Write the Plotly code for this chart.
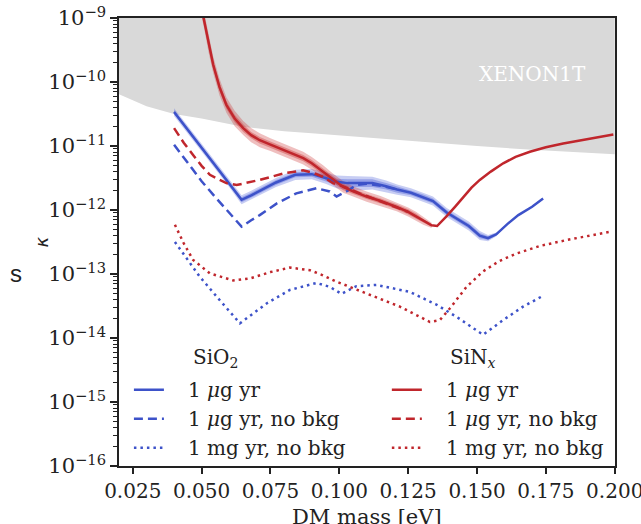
import numpy as np
import plotly.graph_objects as go

# ---------------- data (log10 values) ----------------
xenon_x = [0.020, 0.030, 0.040, 0.050, 0.065, 0.080, 0.090, 0.110, 0.130, 0.150, 0.170, 0.200]
xenon_log = [-10.19, -10.38, -10.50, -10.57, -10.70, -10.77, -10.80, -10.87, -10.94, -11.00, -11.06, -11.13]

sio2_x = [0.040, 0.045, 0.050, 0.055, 0.060, 0.0645, 0.068, 0.072, 0.077, 0.084, 0.090, 0.095,
          0.099, 0.103, 0.108, 0.112, 0.117, 0.121, 0.126, 0.130, 0.134, 0.139, 0.143, 0.147,
          0.151, 0.154, 0.157, 0.161, 0.165, 0.170, 0.174]
sio2_log = [-10.47, -10.75, -11.02, -11.30, -11.58, -11.84, -11.77, -11.68, -11.57, -11.45, -11.44, -11.50,
            -11.56, -11.58, -11.58, -11.58, -11.63, -11.68, -11.73, -11.79, -11.86, -12.04, -12.15, -12.25,
            -12.40, -12.44, -12.38, -12.22, -12.08, -11.95, -11.82]
sio2_band1 = [0.03, 0.03, 0.03, 0.03, 0.03, 0.04, 0.04, 0.04, 0.04, 0.04, 0.04, 0.05,
              0.05, 0.06, 0.06, 0.06, 0.05, 0.05, 0.04, 0.04, 0.04, 0.04, 0.04, 0.04,
              0.04, 0.03, 0.02, 0.01, 0.0, 0.0, 0.0]
sio2_band2 = [0.06, 0.06, 0.06, 0.06, 0.06, 0.07, 0.07, 0.07, 0.07, 0.08, 0.08, 0.09,
              0.10, 0.11, 0.11, 0.10, 0.09, 0.08, 0.07, 0.07, 0.07, 0.07, 0.07, 0.07,
              0.07, 0.05, 0.03, 0.01, 0.0, 0.0, 0.0]

sio2_nb_x = [0.040, 0.045, 0.050, 0.055, 0.060, 0.0645, 0.068, 0.0711, 0.0772, 0.0844, 0.0917,
             0.0965, 0.099, 0.1026, 0.1062, 0.110, 0.115, 0.121]
sio2_nb_log = [-10.98, -11.27, -11.55, -11.80, -12.04, -12.26, -12.16, -12.08, -11.90, -11.74, -11.66,
               -11.71, -11.79, -11.71, -11.61, -11.59, -11.62, -11.68]

sio2_mg_x = [0.0403, 0.0449, 0.0493, 0.0566, 0.0639, 0.0736, 0.082, 0.0917, 0.0965, 0.1008, 0.1062,
             0.1135, 0.1256, 0.1353, 0.1426, 0.1522, 0.1595, 0.1667, 0.174]
sio2_mg_log = [-12.50, -12.78, -13.04, -13.41, -13.77, -13.46, -13.25, -13.14, -13.20, -13.31, -13.19,
               -13.17, -13.28, -13.48, -13.67, -13.95, -13.72, -13.51, -13.34]

sinx_x = [0.0500, 0.0509, 0.0525, 0.0542, 0.0565, 0.059, 0.062, 0.0651, 0.068, 0.0711, 0.075, 0.0796,
          0.083, 0.0869, 0.090, 0.0941, 0.098, 0.1014, 0.105, 0.1099, 0.115, 0.1208, 0.125, 0.128,
          0.1305, 0.1335, 0.1355, 0.137, 0.1389, 0.142, 0.145, 0.148, 0.151, 0.155, 0.1595, 0.164,
          0.1692, 0.175, 0.1813, 0.190, 0.1995]
sinx_log = [-8.85, -9.03, -9.40, -9.73, -10.08, -10.36, -10.57, -10.72, -10.83, -10.91, -10.98, -11.06,
            -11.12, -11.19, -11.27, -11.40, -11.53, -11.64, -11.71, -11.79, -11.86, -11.95, -12.03, -12.10,
            -12.17, -12.24, -12.25, -12.19, -12.10, -11.95, -11.80, -11.65, -11.53, -11.40, -11.27, -11.17,
            -11.09, -11.02, -10.96, -10.89, -10.82]
sinx_band1 = [0.06, 0.06, 0.06, 0.06, 0.06, 0.06, 0.06, 0.06, 0.05, 0.05, 0.05, 0.05,
              0.05, 0.05, 0.05, 0.05, 0.05, 0.05, 0.04, 0.04, 0.04, 0.04, 0.04, 0.04,
              0.03, 0.02, 0.0, 0.0, 0.0, 0.0, 0.0, 0.0, 0.0, 0.0, 0.0, 0.0,
              0.0, 0.0, 0.0, 0.0, 0.0]
sinx_band2 = [0.13, 0.13, 0.13, 0.13, 0.13, 0.12, 0.12, 0.11, 0.11, 0.11, 0.10, 0.10,
              0.10, 0.10, 0.10, 0.10, 0.09, 0.09, 0.08, 0.08, 0.08, 0.07, 0.07, 0.07,
              0.06, 0.04, 0.0, 0.0, 0.0, 0.0, 0.0, 0.0, 0.0, 0.0, 0.0, 0.0,
              0.0, 0.0, 0.0, 0.0, 0.0]

sinx_nb_x = [0.040, 0.0435, 0.0469, 0.050, 0.053, 0.059, 0.0627, 0.0711, 0.0796, 0.0832, 0.0868,
             0.0905, 0.094, 0.0977, 0.1014, 0.1074, 0.1123, 0.120, 0.125]
sinx_nb_log = [-10.72, -10.95, -11.14, -11.31, -11.45, -11.58, -11.61, -11.53, -11.43, -11.40, -11.38,
               -11.42, -11.48, -11.58, -11.63, -11.74, -11.82, -11.94, -12.03]

sinx_mg_x = [0.0403, 0.0435, 0.0469, 0.053, 0.0614, 0.0675, 0.075, 0.082, 0.0893, 0.094, 0.099,
             0.1099, 0.122, 0.1329, 0.1365, 0.1401, 0.1462, 0.1522, 0.158, 0.1643, 0.173, 0.1825, 0.1982]
sinx_mg_log = [-12.23, -12.52, -12.78, -12.99, -13.10, -13.07, -12.97, -12.90, -12.94, -13.02, -13.12,
               -13.30, -13.51, -13.75, -13.72, -13.54, -13.20, -12.96, -12.80, -12.68, -12.56, -12.47, -12.34]

x_ticks = [0.025, 0.050, 0.075, 0.100, 0.125, 0.150, 0.175, 0.200]
x_ticktext = ["0.025", "0.050", "0.075", "0.100", "0.125", "0.150", "0.175", "0.200"]
y_exps = [-16, -15, -14, -13, -12, -11, -10, -9]

BLUE = "#3d52c9"
RED = "#c0262c"
SERIF = "DejaVu Serif"


def pw(a):
    return [10.0 ** v for v in a]


fig = go.Figure()

# XENON1T excluded region
fig.add_trace(go.Scatter(
    x=xenon_x + [xenon_x[-1], xenon_x[0]],
    y=pw(xenon_log) + [10.0 ** y_exps[-1], 10.0 ** y_exps[-1]],
    fill="toself", fillcolor="#d9d9d9", line=dict(width=0), mode="lines",
    showlegend=False, hoverinfo="skip"))


def add_band(xs, c, w, rgba):
    xs_b = [x for x, ww in zip(xs, w) if ww > 0]
    up = [10 ** (v + ww) for v, ww in zip(c, w) if ww > 0]
    lo = [10 ** (v - ww) for v, ww in zip(c, w) if ww > 0]
    fig.add_trace(go.Scatter(x=xs_b + xs_b[::-1], y=up + lo[::-1], fill="toself",
                             fillcolor=rgba, line=dict(width=0), mode="lines",
                             showlegend=False, hoverinfo="skip"))


add_band(sio2_x, sio2_log, sio2_band2, "rgba(70,90,215,0.30)")
add_band(sio2_x, sio2_log, sio2_band1, "rgba(70,90,215,0.38)")
add_band(sinx_x, sinx_log, sinx_band2, "rgba(205,55,55,0.32)")
add_band(sinx_x, sinx_log, sinx_band1, "rgba(205,55,55,0.40)")

NB = "\u00a0" * 3
DASH = "9px,5px"
DOT = "2.5px,4px"

# SiO2
fig.add_trace(go.Scatter(x=sio2_nb_x, y=pw(sio2_nb_log), mode="lines",
                         line=dict(color=BLUE, width=2.5, dash=DASH),
                         name=NB + "1 <i>μ</i>g yr, no bkg", legend="legend", legendrank=2))
fig.add_trace(go.Scatter(x=sio2_mg_x, y=pw(sio2_mg_log), mode="lines",
                         line=dict(color=BLUE, width=2.5, dash=DOT),
                         name=NB + "1 mg yr, no bkg", legend="legend", legendrank=3))
fig.add_trace(go.Scatter(x=sio2_x, y=pw(sio2_log), mode="lines",
                         line=dict(color=BLUE, width=2.5),
                         name=NB + "1 <i>μ</i>g yr", legend="legend", legendrank=1))
# SiNx
fig.add_trace(go.Scatter(x=sinx_nb_x, y=pw(sinx_nb_log), mode="lines",
                         line=dict(color=RED, width=2.5, dash=DASH),
                         name=NB + "1 <i>μ</i>g yr, no bkg", legend="legend2", legendrank=2))
fig.add_trace(go.Scatter(x=sinx_mg_x, y=pw(sinx_mg_log), mode="lines",
                         line=dict(color=RED, width=2.5, dash=DOT),
                         name=NB + "1 mg yr, no bkg", legend="legend2", legendrank=3))
fig.add_trace(go.Scatter(x=sinx_x, y=pw(sinx_log), mode="lines",
                         line=dict(color=RED, width=2.5),
                         name=NB + "1 <i>μ</i>g yr", legend="legend2", legendrank=1))

leg_common = dict(bgcolor="rgba(0,0,0,0)", borderwidth=0, orientation="v",
                  font=dict(family=SERIF, size=20, color="#222"),
                  xanchor="left", yanchor="top", tracegroupgap=0, traceorder="normal")
fig.update_layout(
    legend=dict(x=0.02, y=0.214, **leg_common),
    legend2=dict(x=0.54, y=0.214, **leg_common),
)

fig.update_xaxes(range=[0.02, 0.2001], tickvals=x_ticks, ticktext=x_ticktext, automargin=False,
                 ticklabeloverflow="allow",
                 ticks="outside", ticklen=6, tickwidth=1.5, tickcolor="#222",
                 showline=True, linecolor="#222", linewidth=1.5, mirror=True,
                 showgrid=False, zeroline=False,
                 tickfont=dict(family=SERIF, size=20, color="#222"))
fig.update_yaxes(type="log", range=[-16, -9], automargin=False,
                 tickvals=[10.0 ** e for e in y_exps],
                 ticktext=["10<sup>−%d</sup>" % (-e) for e in y_exps],
                 ticks="outside", ticklen=7, tickwidth=1.5, tickcolor="#222",
                 minor=dict(ticks="outside", ticklen=4, tickwidth=1, tickcolor="#222", dtick="D1", showgrid=False),
                 showline=True, linecolor="#222", linewidth=1.5, mirror=True,
                 showgrid=False, zeroline=False,
                 tickfont=dict(family=SERIF, size=21, color="#222"))

annos = [
    dict(text="DM mass [eV]", x=0.5, y=(466 - 503) / 448, xref="paper", yref="paper",
         xanchor="center", yanchor="top", showarrow=False,
         font=dict(family=SERIF, size=21, color="#222")),
    dict(text="XENON1T", x=(532 - 119) / 496, y=1 - (74 - 18) / 448, xref="paper", yref="paper",
         xanchor="center", yanchor="middle", showarrow=False,
         font=dict(family=SERIF, size=20, color="white")),
    dict(text="SiO<sub>2</sub>", x=(191 - 119) / 496, y=1 - (358 - 18) / 448, xref="paper", yref="paper",
         xanchor="left", yanchor="middle", showarrow=False, font=dict(family=SERIF, size=20, color="#222")),
    dict(text="SiN<sub><i>x</i></sub>", x=(448 - 119) / 496, y=1 - (358 - 18) / 448, xref="paper", yref="paper",
         xanchor="left", yanchor="middle", showarrow=False, font=dict(family=SERIF, size=20, color="#222")),
    dict(text="<i>κ</i>", x=(28 - 119) / 496, y=1 - (242 - 18) / 448, xref="paper", yref="paper",
         xanchor="left", yanchor="middle",
         textangle=-90, showarrow=False, font=dict(family="DejaVu Sans", size=18, color="#222")),
    dict(text="s", x=(8 - 119) / 496, y=1 - (273 - 18) / 448, xref="paper", yref="paper",
         xanchor="left", yanchor="middle",
         showarrow=False, font=dict(family="Liberation Sans", size=24, color="#222")),
]

fig.update_layout(width=641, height=524, margin=dict(l=119, r=26, t=18, b=58),
                  plot_bgcolor="white", paper_bgcolor="white", annotations=annos)

fig.write_html("out.html")
